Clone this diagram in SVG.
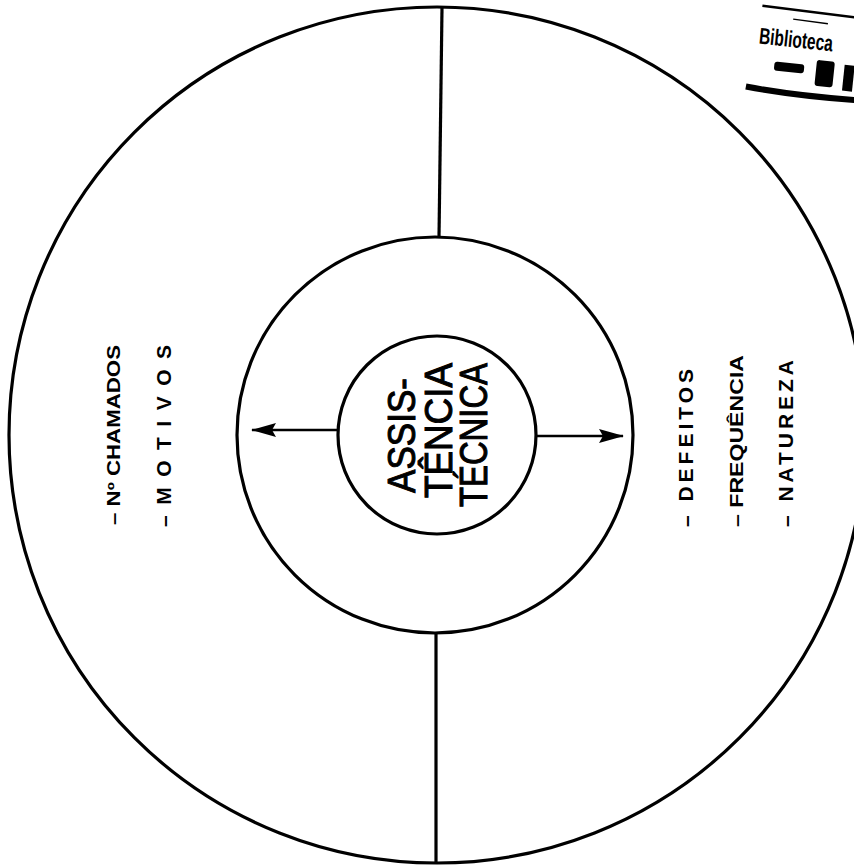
<svg xmlns="http://www.w3.org/2000/svg" width="854" height="868" viewBox="0 0 854 868">
<defs>
<style>
.ln{fill:none;stroke:#000;stroke-width:3.2}
.ar{fill:none;stroke:#000;stroke-width:2.4}
.ctr{font-family:"Liberation Sans",Arial,sans-serif;font-size:38px;fill:#000;stroke:#000;stroke-width:1}
.lbl{font-family:"Liberation Sans",Arial,sans-serif;font-weight:bold;fill:#000}
.stamp{font-family:"Liberation Sans",Arial,sans-serif;font-weight:bold;font-size:23px;fill:#000}
</style>
<marker id="ah" markerUnits="userSpaceOnUse" markerWidth="26" markerHeight="14" refX="24" refY="7" orient="auto">
<path d="M0,0 L25,7 L0,14 L4,7 z" fill="#000"/>
</marker>
</defs>
<rect width="854" height="868" fill="#fff"/>
<g id="outer-ring">
<circle class="ln" cx="437" cy="435" r="428"/>
</g>
<g id="middle-ring">
<circle class="ln" cx="435" cy="435" r="198"/>
</g>
<g id="dividers">
<line class="ln" x1="442" y1="8" x2="439" y2="237"/>
<line class="ln" x1="436" y1="633" x2="436" y2="863"/>
</g>
<g id="center">
<circle class="ln" cx="437" cy="435" r="99"/>
<text class="ctr" transform="translate(415,493) rotate(-90)" textLength="115" lengthAdjust="spacingAndGlyphs">ASSIS-</text>
<text class="ctr" transform="translate(452,498) rotate(-90)" textLength="135" lengthAdjust="spacingAndGlyphs">TÊNCIA</text>
<text class="ctr" transform="translate(487,507) rotate(-90)" textLength="144" lengthAdjust="spacingAndGlyphs">TÉCNICA</text>
</g>
<g id="connectors">
<line class="ar" x1="338" y1="430" x2="252" y2="430" marker-end="url(#ah)"/>
<line class="ar" x1="536" y1="436" x2="623" y2="436" marker-end="url(#ah)"/>
</g>
<g id="left-labels">
<text class="lbl" font-size="18" transform="translate(120,525) rotate(-90)" textLength="180" lengthAdjust="spacingAndGlyphs">– Nº CHAMADOS</text>
<text class="lbl" font-size="21" transform="translate(171,527) rotate(-90)" textLength="182" lengthAdjust="spacing">– M O T I V O S</text>
</g>
<g id="right-labels">
<text class="lbl" font-size="21" transform="translate(693,527) rotate(-90)" textLength="158" lengthAdjust="spacing">– DEFEITOS</text>
<text class="lbl" font-size="18" transform="translate(743,527) rotate(-90)" textLength="172" lengthAdjust="spacingAndGlyphs">– FREQUÊNCIA</text>
<text class="lbl" font-size="21" transform="translate(793,527) rotate(-90)" textLength="167" lengthAdjust="spacing">– NATUREZA</text>
</g>
<g id="stamp" transform="rotate(6 800 50)">
<line x1="758" y1="10" x2="860" y2="12" stroke="#000" stroke-width="2.5"/>
<line x1="790" y1="20" x2="825" y2="21" stroke="#000" stroke-width="1.5"/>
<text class="stamp" x="758" y="48" textLength="74" lengthAdjust="spacingAndGlyphs">Biblioteca</text>
<rect x="776" y="64" width="30" height="9" rx="3" fill="#000"/>
<rect x="818" y="58" width="18" height="26" rx="3" fill="#000"/>
<rect x="846" y="60" width="10" height="26" fill="#000"/>
<path d="M750,92 Q800,96 860,94" stroke="#000" stroke-width="6" fill="none"/>
</g>
</svg>
